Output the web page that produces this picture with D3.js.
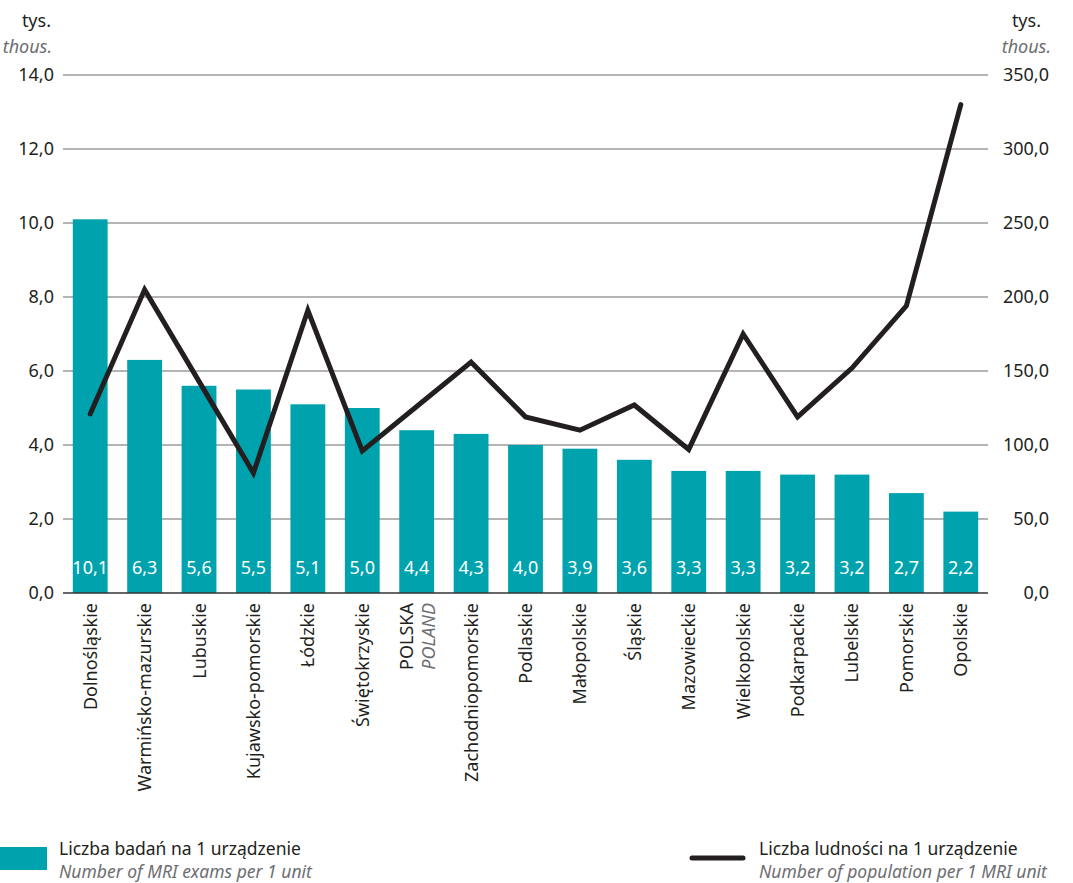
<!DOCTYPE html>
<html><head><meta charset="utf-8">
<script src="https://cdn.jsdelivr.net/npm/d3@7"></script>
<style>
body{margin:0;background:#fff;}
text{font-family:"Noto Sans",sans-serif;}
</style></head>
<body><svg id="c" width="1073" height="883"></svg>
<script>
const categories = ["Dolnośląskie","Warmińsko-mazurskie","Lubuskie","Kujawsko-pomorskie","Łódzkie","Świętokrzyskie","POLSKA","Zachodniopomorskie","Podlaskie","Małopolskie","Śląskie","Mazowieckie","Wielkopolskie","Podkarpackie","Lubelskie","Pomorskie","Opolskie"];
const categoriesEn = ["","","","","","","POLAND","","","","","","","","","",""];
const examsPerUnit = [10.1,6.3,5.6,5.5,5.1,5.0,4.4,4.3,4.0,3.9,3.6,3.3,3.3,3.2,3.2,2.7,2.2];
const populationPerUnit = [121,205,143,81,191,96,126,156,119,110,127,97,175,119,152,194,330];
const leftTicks = [0,2,4,6,8,10,12,14];
const rightTicks = [0,50,100,150,200,250,300,350];
const legendBar = ["Liczba badań na 1 urządzenie","Number of MRI exams per 1 unit"];
const legendLine = ["Liczba ludności na 1 urządzenie","Number of population per 1 MRI unit"];

const svg = d3.select("#c");
const L = 63, R = 988, T = 75, B = 593;
const teal = "#00A3AD", dark = "#231F20", grey = "#6d6e71";
const FS = 18;
const fmt = v => d3.format(".1f")(v).replace(".", ",");

const x = d3.scaleBand().domain(categories).range([L, R]).paddingInner(0.36).paddingOuter(0.18);
const yL = d3.scaleLinear().domain([0,14]).range([B,T]);
const yR = d3.scaleLinear().domain([0,350]).range([B,T]);

// grid
svg.append("g").selectAll("line").data(leftTicks.filter(d=>d>0)).join("line")
  .attr("x1", L).attr("x2", R).attr("y1", d=>yL(d)).attr("y2", d=>yL(d))
  .attr("stroke", "#6a6a6a").attr("stroke-width", 1.2);

// left axis
const gl = svg.append("g").attr("transform", `translate(54,0)`)
  .call(d3.axisLeft(yL).tickValues(leftTicks).tickFormat(fmt).tickSize(0).tickPadding(0));
gl.select(".domain").remove();
gl.selectAll("text").attr("font-size", FS).attr("fill", dark).attr("font-family", "Noto Sans");

// right axis
const gr = svg.append("g").attr("transform", `translate(1049,0)`)
  .call(d3.axisLeft(yR).tickValues(rightTicks).tickFormat(fmt).tickSize(0).tickPadding(0));
gr.select(".domain").remove();
gr.selectAll("text").attr("font-size", FS).attr("fill", dark).attr("font-family", "Noto Sans");

// unit labels
svg.append("text").attr("x", 51).attr("y", 27).attr("text-anchor","end").attr("font-size",FS).attr("fill",dark).text("tys.");
svg.append("text").attr("x", 52).attr("y", 53).attr("text-anchor","end").attr("font-size",FS).attr("font-style","italic").attr("fill",grey).text("thous.");
svg.append("text").attr("x", 1041).attr("y", 27).attr("text-anchor","end").attr("font-size",FS).attr("fill",dark).text("tys.");
svg.append("text").attr("x", 1051).attr("y", 53).attr("text-anchor","end").attr("font-size",FS).attr("font-style","italic").attr("fill",grey).text("thous.");

// bars
svg.append("g").selectAll("rect").data(examsPerUnit).join("rect")
  .attr("x", (d,i)=>x(categories[i])).attr("width", x.bandwidth())
  .attr("y", d=>yL(d)).attr("height", d=>B-yL(d)).attr("fill", teal);

// bar labels
svg.append("g").selectAll("text").data(examsPerUnit).join("text")
  .attr("x", (d,i)=>x(categories[i])+x.bandwidth()/2).attr("y", 574)
  .attr("text-anchor","middle").attr("font-size",FS).attr("fill","#fff").text(d=>fmt(d));

// baseline
svg.append("line").attr("x1", L).attr("x2", R).attr("y1", B).attr("y2", B).attr("stroke", "#333").attr("stroke-width", 1.5);

// line
const line = d3.line().x((d,i)=>x(categories[i])+x.bandwidth()/2).y(d=>yR(d));
svg.append("path").datum(populationPerUnit).attr("d", line)
  .attr("fill","none").attr("stroke", dark).attr("stroke-width", 5)
  .attr("stroke-linejoin","miter").attr("stroke-linecap","round");

// x labels
const xl = svg.append("g").selectAll("g").data(categories).join("g")
  .attr("transform", (d,i)=>`translate(${x(d)+x.bandwidth()/2},603) rotate(-90)`);
xl.each(function(d,i){
  const g = d3.select(this);
  if (categoriesEn[i]) {
    g.append("text").attr("x",0).attr("y",-4).attr("text-anchor","end").attr("font-size",FS).attr("fill",dark).text(d);
    g.append("text").attr("x",0).attr("y",18).attr("text-anchor","end").attr("font-size",FS).attr("font-style","italic").attr("fill",grey).text(categoriesEn[i]);
  } else {
    g.append("text").attr("x",0).attr("y",6.5).attr("text-anchor","end").attr("font-size",FS).attr("fill",dark).text(d);
  }
});

// legend
const LFS = 17.5;
svg.append("rect").attr("x",0).attr("y",847).attr("width",47).attr("height",23).attr("fill",teal);
svg.append("text").attr("x",59).attr("y",855).attr("font-size",LFS).attr("fill",dark).text(legendBar[0]);
svg.append("text").attr("x",59).attr("y",878).attr("font-size",LFS).attr("font-style","italic").attr("fill",grey).text(legendBar[1]);
svg.append("line").attr("x1",692).attr("x2",743).attr("y1",858).attr("y2",858).attr("stroke",dark).attr("stroke-width",5).attr("stroke-linecap","round");
svg.append("text").attr("x",759).attr("y",855).attr("font-size",LFS).attr("fill",dark).text(legendLine[0]);
svg.append("text").attr("x",759).attr("y",878).attr("font-size",LFS).attr("font-style","italic").attr("fill",grey).text(legendLine[1]);
</script></body></html>
